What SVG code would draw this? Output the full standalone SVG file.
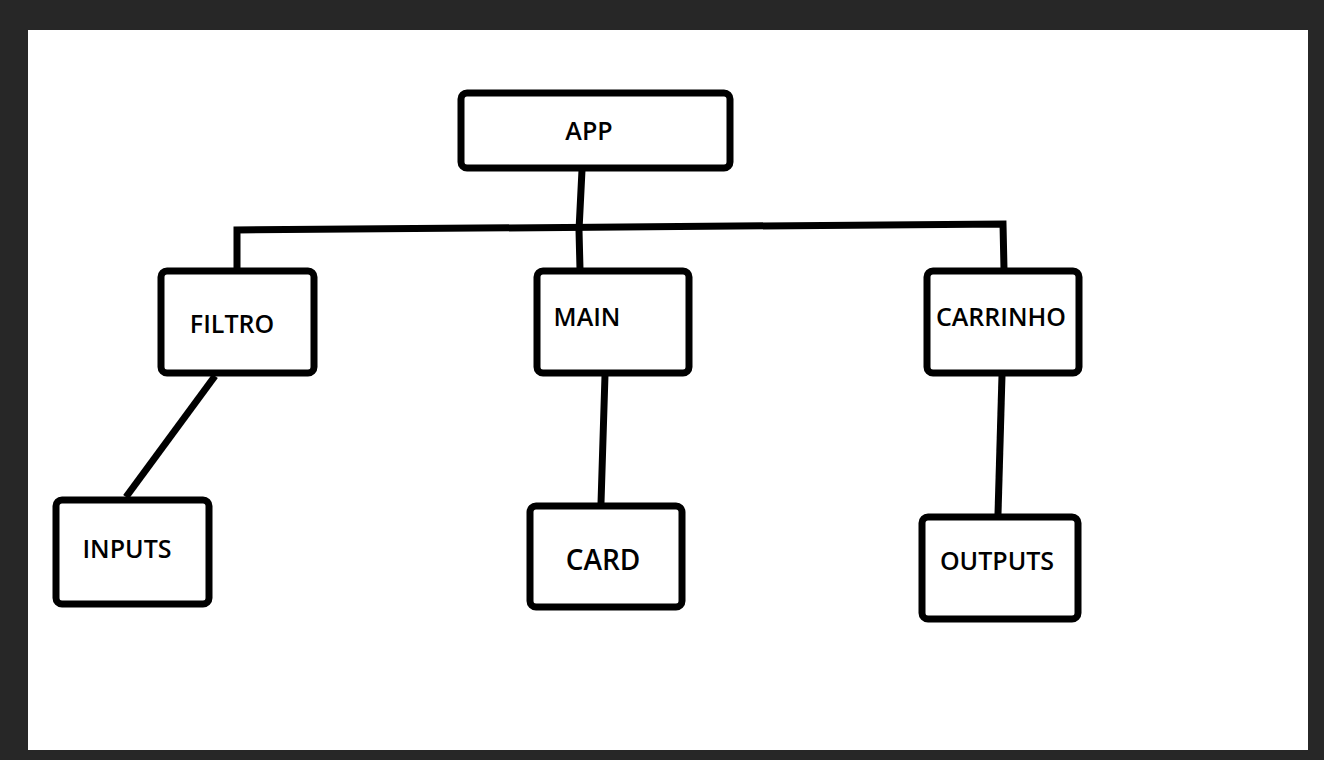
<svg xmlns="http://www.w3.org/2000/svg" width="1324" height="760" viewBox="0 0 1324 760">
<style>
.box{fill:#fff;stroke:#000;stroke-width:7}
.lbl{font-family:"Open Sans","Liberation Sans",sans-serif;font-size:25px;font-weight:600;fill:#000}
.con{fill:none;stroke:#000;stroke-width:7;stroke-linejoin:miter}
</style>
<rect width="1324" height="760" fill="#272727"/>
<rect x="28" y="30" width="1280" height="720" fill="#fff"/>
<g id="connectors">
<path class="con" d="M582 170 L579 230 L580 269"/>
<path class="con" d="M237 269 L237 230 L1003 224 L1004 269"/>
<path class="con" d="M215 376 L126 497"/>
<path class="con" d="M605 375 L601 503"/>
<path class="con" d="M1002 375 L998 514"/>
</g>
<g id="app"><rect class="box" x="461" y="93" width="269" height="75" rx="6"/><text class="lbl" x="589" y="140" text-anchor="middle">APP</text></g>
<g id="filtro"><rect class="box" x="161" y="271" width="153" height="102" rx="6"/><text class="lbl" x="232" y="333" text-anchor="middle">FILTRO</text></g>
<g id="main"><rect class="box" x="537" y="271" width="152" height="102" rx="6"/><text class="lbl" x="587" y="326" text-anchor="middle">MAIN</text></g>
<g id="carrinho"><rect class="box" x="927" y="271" width="152" height="102" rx="6"/><text class="lbl" x="1001" y="326" text-anchor="middle">CARRINHO</text></g>
<g id="inputs"><rect class="box" x="56" y="500" width="153" height="104" rx="6"/><text class="lbl" x="127" y="558" text-anchor="middle">INPUTS</text></g>
<g id="card"><rect class="box" x="530" y="506" width="152" height="101" rx="6"/><text class="lbl" x="603" y="570" text-anchor="middle" style="font-size:28px">CARD</text></g>
<g id="outputs"><rect class="box" x="922" y="517" width="156" height="102" rx="6"/><text class="lbl" x="997" y="570" text-anchor="middle">OUTPUTS</text></g>
</svg>
